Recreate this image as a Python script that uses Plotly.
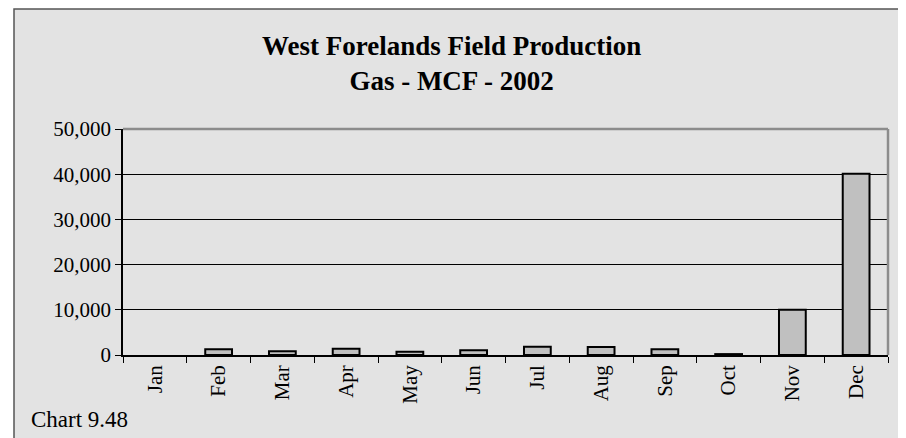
import plotly.graph_objects as go

months = ["Jan", "Feb", "Mar", "Apr", "May", "Jun", "Jul", "Aug", "Sep", "Oct", "Nov", "Dec"]
gas_mcf = [None, 1260, 820, 1400, 730, 1040, 1840, 1770, 1260, 200, 10000, 40100]
y_ticks = [0, 10000, 20000, 30000, 40000, 50000]

title_text = "<b>West Forelands Field Production<br>Gas - MCF - 2002</b>"
chart_label = "Chart 9.48"

FONT = "Liberation Serif, Times New Roman, serif"

# page body has an 8px margin; build the figure in page coordinates minus that offset
OFF = 8
PAGE_W, PAGE_H = 906, 438
W, H = PAGE_W - OFF, PAGE_H - OFF
L, R, T, B = 123 - OFF, 18, 129 - OFF, 83
PW, PH = W - L - R, H - T - B


def px_x(p):
    return (p - OFF - L) / PW


def px_y(p):
    return (H - B - (p - OFF)) / PH


fig = go.Figure()
fig.add_trace(go.Bar(
    x=months, y=gas_mcf,
    marker=dict(color="#c0c0c0", line=dict(color="#000000", width=2)),
    width=0.42,
))

fig.update_layout(
    width=W, height=H,
    margin=dict(l=L, r=R, t=T, b=B, pad=0),
    paper_bgcolor="#ffffff",
    plot_bgcolor="#ffffff",
    font=dict(family=FONT, size=21, color="#000000"),
    showlegend=False,
    xaxis=dict(
        type="category",
        tickangle=-90,
        ticks="outside", ticklen=6, tickcolor="#000000", tickwidth=1,
        tickson="boundaries",
        showline=True, linecolor="#000000", linewidth=1.5,
        showgrid=False,
        tickfont=dict(family=FONT, size=21),
    ),
    yaxis=dict(
        range=[0, 50000],
        tickvals=y_ticks,
        tickformat=",",
        ticks="outside", ticklen=6, tickcolor="#000000", tickwidth=1,
        showline=True, linecolor="#000000", linewidth=1.5,
        showgrid=True, gridcolor="#000000", gridwidth=1,
        zeroline=False,
        tickfont=dict(family=FONT, size=21),
    ),
    shapes=[
        dict(type="rect", xref="paper", yref="paper", layer="below",
             x0=px_x(14), x1=px_x(PAGE_W + 10), y0=px_y(PAGE_H + 10), y1=px_y(9),
             fillcolor="#e3e3e3", line=dict(color="#555555", width=1.5)),
        dict(type="line", xref="paper", yref="paper", layer="above",
             x0=0, x1=1, y0=1, y1=1, line=dict(color="#8c8c8c", width=2.5)),
        dict(type="line", xref="paper", yref="paper", layer="above",
             x0=1, x1=1, y0=0, y1=1, line=dict(color="#8c8c8c", width=2.5)),
    ],
    annotations=[
        dict(text=title_text, xref="paper", yref="paper",
             x=px_x(451), y=px_y(63), xanchor="center", yanchor="middle",
             showarrow=False, font=dict(family=FONT, size=27, color="#000000")),
        dict(text=chart_label, xref="paper", yref="paper",
             x=px_x(29), y=px_y(419), xanchor="left", yanchor="middle",
             showarrow=False, font=dict(family=FONT, size=23, color="#000000")),
    ],
)

fig.write_html("out.html")
